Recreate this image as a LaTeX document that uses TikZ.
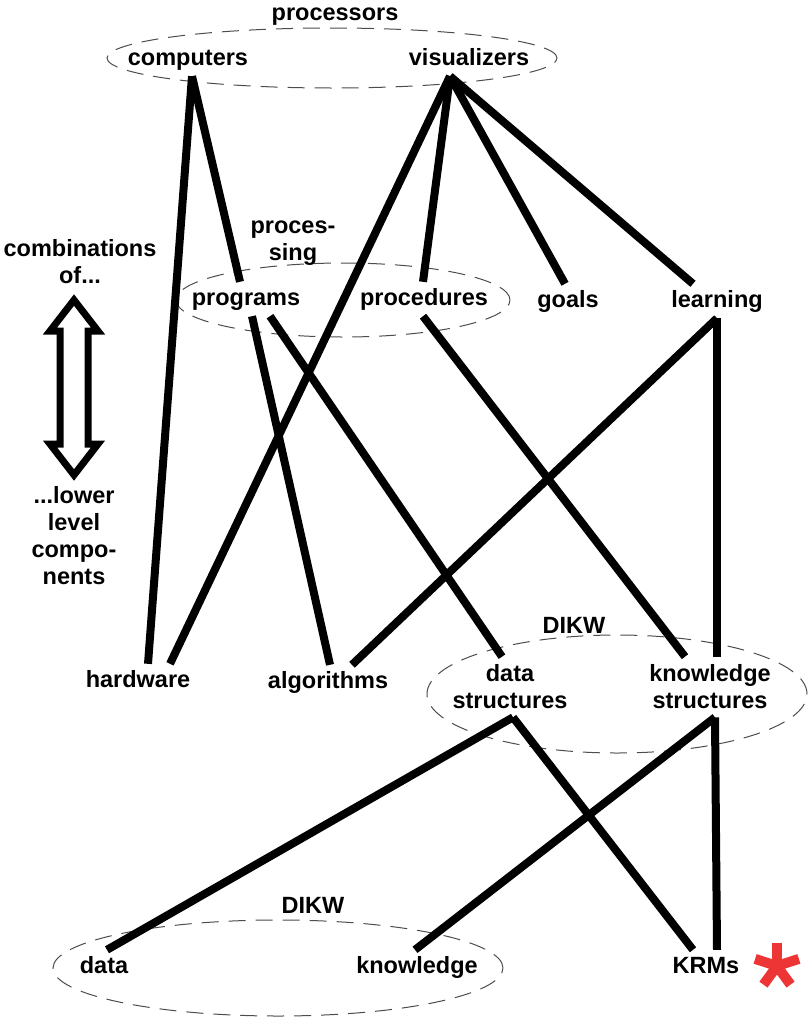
\documentclass[tikz,border=0pt]{standalone}
\usepackage{fontspec}
\setmainfont{Liberation Sans}
\usetikzlibrary{positioning, calc}
\definecolor{starred}{HTML}{EE3535}

\begin{document}
\begin{tikzpicture}[
    x=1pt, y=-1pt,
    lbl/.style={font=\fontsize{23.5}{27}\selectfont\bfseries, anchor=base, inner xsep=2pt, inner ysep=6pt, text height=17pt, text depth=5pt},
    blk/.style={font=\fontsize{23.5}{27}\selectfont\bfseries, align=center, inner xsep=2pt, inner ysep=8pt},
    link/.style={line width=8pt},
    group/.style={draw=black!70, line width=1pt, dash pattern=on 17pt off 10pt},
    updown/.style={draw, line width=7pt, line join=miter},
    star/.style={draw=starred, line width=10pt}
]
    \useasboundingbox (0,0) rectangle (811,1023);

    % Groups
    \draw[group] (332,58) ellipse [x radius=225pt, y radius=30pt];
    \draw[group] (343,300) ellipse [x radius=167pt, y radius=37pt];
    \draw[group] (617,694) ellipse [x radius=190pt, y radius=59pt];
    \draw[group] (278,968) ellipse [x radius=225pt, y radius=48pt];

    % Processors
    \node[lbl] (processors) at (335,20) {processors};
    \node[lbl] (computers) at (188,65) {computers};
    \node[lbl] (visualizers) at (469,65) {visualizers};

    % Processing
    \node[blk] (processing) at (293,243) {proces-\\sing};
    \node[lbl] (programs) at (246,305) {programs};
    \node[lbl] (procedures) at (424,305) {procedures};
    \node[lbl] (goals) at (568,307) {goals};
    \node[lbl] (learning) at (717,307) {learning};

    % Side note
    \node[blk] (combinations) at (80,262) {combinations\\of...};
    \node[blk] (lower) at (74,536) {...lower\\level\\compo-\\nents};
    \draw[updown] (74,300) -- (98,331) -- (88,331) -- (88,444) -- (98,444) -- (74,475)
        -- (50,444) -- (60,444) -- (60,331) -- (50,331) -- cycle;

    % Components
    \node[lbl] (hardware) at (138,687) {hardware};
    \node[lbl] (algorithms) at (328,688) {algorithms};
    \node[lbl] (dikwmid) at (574,633) {DIKW};
    \node[blk] (datastruct) at (510,687) {data\\structures};
    \node[blk] (knowstruct) at (710,687) {knowledge\\structures};

    % Lowest level
    \node[lbl] (dikwlow) at (313,913) {DIKW};
    \node[lbl] (data) at (104,973) {data};
    \node[lbl] (knowledge) at (417,973) {knowledge};
    \node[lbl] (krms) at (706,973) {KRMs};
    \coordinate (asterisk) at (777,966);
    \foreach \a in {270,198,342,54,126}
        \draw[star] (asterisk) -- ++(\a:23);

    % Links
    \draw[link] ([xshift=4pt]computers.south) -- ([xshift=10pt]hardware.north);
    \draw[link] ([xshift=4pt]computers.south) -- ([xshift=-6pt]programs.north);
    \draw[link] ([xshift=-19pt]visualizers.south) -- ([xshift=32pt]hardware.north);
    \draw[link] ([xshift=-19pt]visualizers.south) -- ([xshift=-1pt]procedures.north);
    \draw[link] ([xshift=-19pt]visualizers.south) -- ([xshift=-3pt]goals.north);
    \draw[link] ([xshift=-19pt]visualizers.south) -- ([xshift=-24pt]learning.north);
    \draw[link] ([xshift=6pt]programs.south) -- ([xshift=2pt]algorithms.north);
    \draw[link] ([xshift=24pt]programs.south) -- ([xshift=-8pt]datastruct.north);
    \draw[link] ([xshift=-1pt]procedures.south) -- ([xshift=-25pt]knowstruct.north);
    \draw[link] (learning.south) -- ([xshift=24pt]algorithms.north);
    \draw[link] (learning.south) -- ([xshift=7pt]knowstruct.north);
    \draw[link] ([xshift=3pt]datastruct.south) -- ([xshift=3pt]data.north);
    \draw[link] ([xshift=3pt]datastruct.south) -- ([xshift=-13pt]krms.north);
    \draw[link] ([xshift=5pt]knowstruct.south) -- ([xshift=-2pt]knowledge.north);
    \draw[link] ([xshift=5pt]knowstruct.south) -- ([xshift=11pt]krms.north);
\end{tikzpicture}
\end{document}
